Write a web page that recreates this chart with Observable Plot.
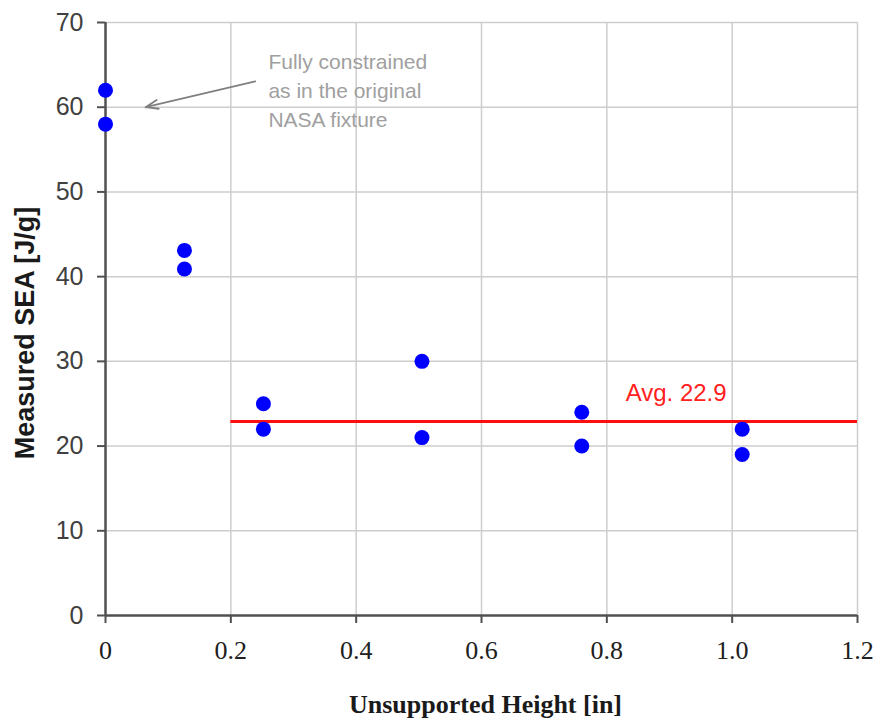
<!DOCTYPE html>
<html><head><meta charset="utf-8">
<script src="https://cdn.jsdelivr.net/npm/d3@7"></script>
<script src="https://cdn.jsdelivr.net/npm/@observablehq/plot@0.6"></script>
<style>
body{margin:0;background:#fff}
#chart svg{display:block}
g[aria-label="x-axis tick label"]{font-family:"Liberation Serif","Times New Roman",serif}
g[aria-label="y-axis tick label"]{font-family:"Liberation Sans",Arial,sans-serif}
</style></head><body><div id="chart"></div>
<script>
const heights = [0, 0, 0.126, 0.126, 0.252, 0.252, 0.505, 0.505, 0.76, 0.76, 1.016, 1.016];
const sea = [62, 58, 43.1, 40.9, 25, 22, 30, 21, 24, 20, 22, 19];
const avgValue = 22.9;
const avgFrom = 0.2;
const avgTo = 1.2;
const avgLabel = "Avg. 22.9";
const xTicks = [0, 0.2, 0.4, 0.6, 0.8, 1.0, 1.2];
const xTickLabels = ["0", "0.2", "0.4", "0.6", "0.8", "1.0", "1.2"];
const yTicks = [0, 10, 20, 30, 40, 50, 60, 70];
const noteText = "Fully constrained\nas in the original\nNASA fixture";
const noteAt = {x: 0.26, y: 62.2};
const arrowFrom = {x: 0.239, y: 63.05};
const arrowTo = {x: 0.064, y: 60};
const xTitle = "Unsupported Height [in]";
const yTitle = "Measured SEA [J/g]";

const points = heights.map((h, i) => ({h, v: sea[i]}));

const chart = Plot.plot({
  width: 875,
  height: 721,
  marginLeft: 105,
  marginRight: 18,
  marginTop: 22,
  marginBottom: 106,
  style: {fontFamily: "Liberation Sans, Arial, sans-serif", background: "#fff"},
  x: {domain: [0, 1.2]},
  y: {domain: [0, 70]},
  marks: [
    Plot.gridX(xTicks.slice(1), {stroke: "#cdcdcd", strokeOpacity: 1, strokeWidth: 1.5}),
    Plot.gridY(yTicks.slice(1), {stroke: "#cdcdcd", strokeOpacity: 1, strokeWidth: 1.5}),
    Plot.axisY({ticks: yTicks, tickSize: 8, tickPadding: 14, fontSize: 25, color: "#404040", stroke: "#505050", strokeWidth: 2, label: null}),
    Plot.axisX({ticks: xTicks, tickFormat: (d, i) => xTickLabels[i], tickSize: 8, tickPadding: 17, fontSize: 26, color: "#202020", stroke: "#505050", strokeWidth: 2, label: null}),
    Plot.ruleX([0], {stroke: "#505050", strokeWidth: 2.5}),
    Plot.ruleY([0], {stroke: "#505050", strokeWidth: 2.5}),
    Plot.ruleY([avgValue], {x1: avgFrom, x2: avgTo, stroke: "#ff1010", strokeWidth: 3}),
    Plot.text([avgLabel], {x: 0.83, y: 26.2, text: d => d, textAnchor: "start", fill: "#ff2020", fontSize: 24}),
    Plot.dot(points, {x: "h", y: "v", r: 7.5, fill: "#0000ff", stroke: "none"}),
    Plot.arrow([0], {x1: arrowFrom.x, y1: arrowFrom.y, x2: arrowTo.x, y2: arrowTo.y, stroke: "#808080", strokeWidth: 1.8, headLength: 11, headAngle: 40}),
    Plot.text([noteText], {x: noteAt.x, y: noteAt.y, text: d => d, textAnchor: "start", lineAnchor: "middle", lineHeight: 1.4, fill: "#a0a0a0", fontSize: 21}),
    Plot.text([xTitle], {frameAnchor: "bottom", dy: 97, dx: 4, text: d => d, fontFamily: "Liberation Serif, Times New Roman, serif", fontWeight: "bold", fontSize: 26, fill: "#1a1a1a"}),
    Plot.text([yTitle], {frameAnchor: "left", dx: -80, dy: 14, rotate: -90, textAnchor: "middle", text: d => d, fontWeight: "bold", fontSize: 27, fill: "#1a1a1a", letterSpacing: 1.2})
  ]
});
document.getElementById("chart").appendChild(chart);
</script></body></html>
